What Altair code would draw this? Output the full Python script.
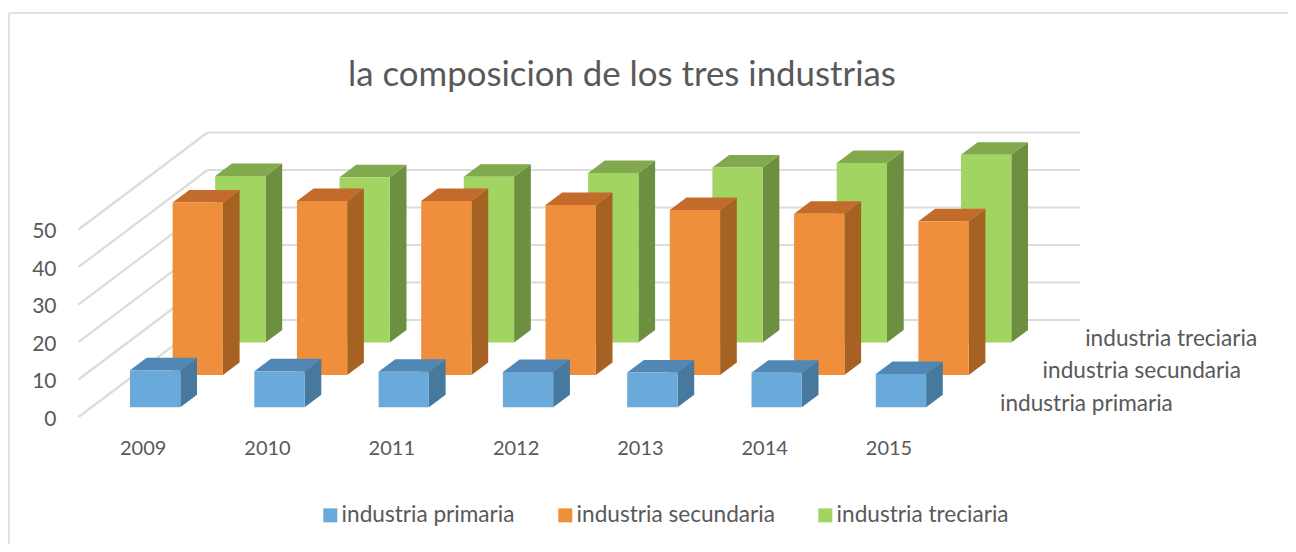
import altair as alt
import pandas as pd

TITLE = "la composicion de los tres industrias"
YEARS = [2009, 2010, 2011, 2012, 2013, 2014, 2015]
SERIES = ["industria primaria", "industria secundaria", "industria treciaria"]
PRIMARIA = [9.9, 9.6, 9.5, 9.4, 9.3, 9.2, 8.9]
SECUNDARIA = [46.0, 46.4, 46.4, 45.3, 44.0, 43.0, 41.0]
TRECIARIA = [44.4, 44.1, 44.2, 45.2, 46.7, 47.9, 50.1]
Y_TICKS = [0, 10, 20, 30, 40, 50]

FRONT = ["#6aaadb", "#f08f3b", "#a2d461"]
SIDE = ["#47789e", "#a66223", "#6c9040"]
TOP = ["#5087b4", "#c26b2a", "#82a94e"]
TEXT = "#595959"
GRID = "#dcdcdc"
FONT = "Lato"

# pixel geometry of the projected scene -> scale domains
PX_YEAR, PX_ZERO = 124.3, 3.75
VIEW_L, VIEW_T, W, H = 9, 13, 1279, 531
def xd(px): return 2009 + (px - 142.7) / PX_YEAR
def yd(py): return (417 - py) / PX_ZERO
XDOM = [xd(VIEW_L), xd(VIEW_L + W)]
YDOM = [yd(VIEW_T + H), yd(VIEW_T)]

BAR_W = 50.3 / PX_YEAR
BAR_START = (130 - 142.7) / PX_YEAR
BASE0 = yd(407.3)
STEP_X, STEP_Y = 42.6 / PX_YEAR, 32.4 / PX_ZERO
CAP_X, CAP_Y = 16.7 / PX_YEAR, 12.5 / PX_ZERO
WALL_X, WALL_Y = 129 / PX_YEAR, 97 / PX_ZERO
LEFT, RIGHT = xd(78.5), xd(1080)

X = lambda f, **k: alt.X(f, type="quantitative", scale=alt.Scale(domain=XDOM, nice=False, zero=False), **k)
Y = lambda f, **k: alt.Y(f, type="quantitative", scale=alt.Scale(domain=YDOM, nice=False, zero=False), **k)
COLOR = alt.Color("serie:N", scale=alt.Scale(domain=SERIES, range=FRONT), legend=alt.Legend(
    title=None, orient="none", direction="horizontal", legendX=310, legendY=491,
    symbolType="square", symbolSize=196, symbolStrokeWidth=0, labelFontSize=22.6, labelFont=FONT,
    labelColor=TEXT, columnPadding=39, labelOffset=0, labelLimit=400))

# walls
walls = []
for t in Y_TICKS:
    walls += [
        dict(id=f"l{t}", x=LEFT, y=t),
        dict(id=f"l{t}", x=LEFT + WALL_X, y=t + WALL_Y),
        dict(id=f"b{t}", x=LEFT + WALL_X, y=t + WALL_Y),
        dict(id=f"b{t}", x=RIGHT, y=t + WALL_Y),
    ]
grid = alt.Chart(pd.DataFrame(walls)).mark_line(color=GRID, strokeWidth=2.2).encode(
    x=X("x", title=None, axis=alt.Axis(values=YEARS, format="d", domain=False, ticks=False, grid=False,
                           labelFontSize=20, labelFont=FONT, labelColor=TEXT, labelPadding=0,
                           labelBaseline="middle", offset=-96, labelFlush=False)),
    y=Y("y", title=None, axis=alt.Axis(values=Y_TICKS, domain=False, ticks=False, grid=False,
                           labelFontSize=21, labelFont=FONT, labelColor=TEXT, labelPadding=0,
                           labelAlign="right", offset=-47, labelOffset=2)),
    detail="id:N",
)

layers = [grid]
for d, vals in reversed(list(enumerate([PRIMARIA, SECUNDARIA, TRECIARIA]))):
    name = SERIES[d]
    x_off = BAR_START + d * STEP_X
    base = BASE0 + d * STEP_Y
    front, side, top = [], [], []
    for yr, v in zip(YEARS, vals):
        x0 = yr + x_off
        x1 = x0 + BAR_W
        t = base + v
        front.append(dict(year=yr, x0=x0, x1=x1, lo=base, hi=t, serie=name))
        side += [dict(year=yr, x=x1, lo=base, hi=t),
                 dict(year=yr, x=x1 + CAP_X, lo=base + CAP_Y, hi=t + CAP_Y)]
        top += [dict(year=yr, y=t, a=x0, b=x1),
                dict(year=yr, y=t + CAP_Y, a=x0 + CAP_X, b=x1 + CAP_X)]
    layers.append(alt.Chart(pd.DataFrame(side)).mark_area(orient="vertical", color=SIDE[d]).encode(
        x=X("x", title=None), y=Y("lo", title=None), y2="hi:Q", detail="year:O"))
    layers.append(alt.Chart(pd.DataFrame(top)).mark_area(orient="horizontal", color=TOP[d]).encode(
        y=Y("y", title=None), x=X("a", title=None), x2="b:Q", detail="year:O"))
    layers.append(alt.Chart(pd.DataFrame(front)).mark_rect().encode(
        x=X("x0", title=None), x2="x1:Q", y=Y("lo", title=None), y2="hi:Q", color=COLOR))

depth = pd.DataFrame({
    "t": SERIES,
    "x": [xd(1000) + i * STEP_X for i in range(3)],
    "y": [yd(403.5) + i * STEP_Y for i in range(3)],
})
layers.append(alt.Chart(depth).mark_text(align="left", baseline="middle", fontSize=22.6, font=FONT, color=TEXT).encode(
    x=X("x", title=None), y=Y("y", title=None), text="t:N"))

# chart frame: only its top and left edges are visible
frame = alt.Chart(pd.DataFrame({"a": [0]}))
layers.append(frame.mark_rule(color="#e2e2e2", strokeWidth=2).encode(
    x=alt.value(0), y=alt.value(0), y2=alt.value(H)))
layers.append(frame.mark_rule(color="#e2e2e2", strokeWidth=2).encode(
    y=alt.value(0), x=alt.value(0), x2=alt.value(W)))

chart = alt.layer(*layers).properties(
    width=W, height=H,
    padding={"left": VIEW_L - 8, "top": VIEW_T - 8, "right": 0, "bottom": 0},
    autosize=alt.AutoSizeParams(type="none"),
    title=alt.TitleParams(TITLE, fontSize=34.8, font=FONT, fontWeight="normal", color=TEXT,
                          anchor="middle", dx=-26.5, offset=-82),
).configure_view(stroke=None)

chart.save("out.html", embed_options={"renderer": "svg", "actions": False})
